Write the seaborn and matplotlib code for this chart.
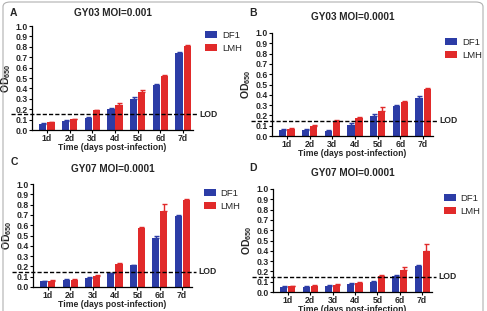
import numpy as np
import pandas as pd
import matplotlib
matplotlib.use("Agg")
import matplotlib.pyplot as plt
import seaborn as sns
from matplotlib.patches import FancyBboxPatch
import matplotlib.transforms as mtransforms

days = ["1d", "2d", "3d", "4d", "5d", "6d", "7d"]
series = ["DF1", "LMH"]

titles = ["GY03 MOI=0.001", "GY03 MOI=0.0001", "GY07 MOI=0.0001", "GY07 MOI=0.0001"]
letters = ["A", "B", "C", "D"]

a_df1 = [0.06, 0.09, 0.12, 0.20, 0.30, 0.43, 0.74]
a_lmh = [0.075, 0.105, 0.19, 0.245, 0.37, 0.52, 0.81]
a_df1_err = [0.005, 0.005, 0.005, 0.01, 0.02, 0.01, 0.01]
a_lmh_err = [0.005, 0.005, 0.005, 0.01, 0.01, 0.01, 0.01]

b_df1 = [0.06, 0.06, 0.05, 0.11, 0.19, 0.29, 0.37]
b_lmh = [0.07, 0.10, 0.15, 0.17, 0.24, 0.33, 0.46]
b_df1_err = [0.005, 0.005, 0.005, 0.02, 0.02, 0.01, 0.02]
b_lmh_err = [0.005, 0.005, 0.005, 0.01, 0.04, 0.01, 0.01]

c_df1 = [0.055, 0.07, 0.09, 0.135, 0.21, 0.48, 0.69]
c_lmh = [0.06, 0.07, 0.11, 0.22, 0.57, 0.74, 0.84]
c_df1_err = [0.005, 0.005, 0.005, 0.005, 0.005, 0.02, 0.01]
c_lmh_err = [0.005, 0.005, 0.005, 0.01, 0.01, 0.07, 0.01]

d_df1 = [0.05, 0.05, 0.06, 0.08, 0.10, 0.16, 0.25]
d_lmh = [0.055, 0.06, 0.07, 0.09, 0.16, 0.21, 0.40]
d_df1_err = [0.005, 0.005, 0.005, 0.005, 0.005, 0.005, 0.01]
d_lmh_err = [0.005, 0.005, 0.005, 0.005, 0.005, 0.03, 0.07]

lod = 0.15

panels = [
    (a_df1, a_lmh, a_df1_err, a_lmh_err),
    (b_df1, b_lmh, b_df1_err, b_lmh_err),
    (c_df1, c_lmh, c_df1_err, c_lmh_err),
    (d_df1, d_lmh, d_df1_err, d_lmh_err),
]

colors = {"DF1": "#2c3ca6", "LMH": "#e12a2a"}

sns.set_theme(style="ticks")
plt.rcParams["font.family"] = ["Liberation Sans", "DejaVu Sans"]
plt.rcParams["mathtext.fontset"] = "custom"
plt.rcParams["mathtext.bf"] = "Liberation Sans:bold"
plt.rcParams["mathtext.rm"] = "Liberation Sans"

W, H = 487, 311
fig = plt.figure(figsize=(W / 100, H / 100), dpi=100)

# axes boxes in pixels: (left, right, top(y=1.0), bottom(y=0.0))
boxes = [(32, 193, 26, 130), (272, 433, 33, 136), (33, 192, 184, 287), (273, 432, 189, 292)]
title_y = [13, 17, 169, 173]
letter_pos = [(10, 13), (249, 13), (11, 162), (249, 168)]

# figure border
border = FancyBboxPatch((3 / W, -0.1), (483 - 3) / W, (1 - 2 / H) + 0.1,
                        boxstyle="round,pad=0,rounding_size=0.015",
                        transform=fig.transFigure, fill=False,
                        edgecolor="#b0b0b0", linewidth=0.8)
fig.patches.append(border)

for i, (df1, lmh, e1, e2) in enumerate(panels):
    l, r, t, b = boxes[i]
    ax = fig.add_axes([l / W, 1 - b / H, (r - l) / W, (b - t) / H])
    df = pd.DataFrame({
        "day": days * 2,
        "series": ["DF1"] * 7 + ["LMH"] * 7,
        "od": list(df1) + list(lmh),
    })
    sns.barplot(data=df, x="day", y="od", hue="series", order=days,
                hue_order=series, palette=colors, errorbar=None,
                width=0.72, gap=0.12, saturation=1, ax=ax, linewidth=0)
    for cont, err, s in zip(ax.containers, [e1, e2], series):
        xs = [bar.get_x() + bar.get_width() / 2 for bar in cont]
        hs = [bar.get_height() for bar in cont]
        ax.errorbar(xs, hs, yerr=[np.zeros(len(err)), err], fmt="none",
                    ecolor=colors[s], elinewidth=1.0, capsize=1.8, capthick=1.0)
    ax.set_ylim(0, 1.0)
    ax.set_xlim(-0.66, 6.44)
    ax.set_yticks(np.arange(0, 1.01, 0.1))
    ax.set_yticklabels([f"{v:.1f}" for v in np.arange(0, 1.01, 0.1)])
    for lab in ax.get_xticklabels() + ax.get_yticklabels():
        lab.set_fontweight("bold")
        lab.set_fontsize(6.2)
    ax.tick_params(axis="both", length=2, width=0.8, pad=1.2, color="black")
    sns.despine(ax=ax)
    for sp in ["left", "bottom"]:
        ax.spines[sp].set_linewidth(0.9)
        ax.spines[sp].set_color("black")
    ax.set_xlabel("Time (days post-infection)", fontsize=6.2, fontweight="bold", labelpad=0)
    ax.set_ylabel(r"$\mathbf{OD}_{\mathbf{650}}$", fontsize=7.5, labelpad=2)
    fig.text((l + r) / 2 / W, 1 - title_y[i] / H, titles[i], fontsize=7.2,
             fontweight="bold", ha="center", va="center")
    # LOD line
    trans = mtransforms.blended_transform_factory(ax.transAxes, ax.transData)
    ax.plot([-0.13, 1.025], [lod, lod], transform=trans, color="black",
            linestyle=(0, (3, 1.5)), linewidth=1.0, clip_on=False, zorder=5)
    ax.text(1.04, lod, "LOD", transform=trans, fontsize=6.2, fontweight="bold",
            va="center", ha="left")
    ax.legend(loc="upper left", bbox_to_anchor=(1.05, 0.99), frameon=False,
              prop={"size": 6.8}, handlelength=1.3, handleheight=0.7,
              borderaxespad=0, labelspacing=0.45, handletextpad=0.5)
    lx, ly = letter_pos[i]
    fig.text(lx / W, 1 - ly / H, letters[i], fontsize=7.5, fontweight="bold",
             ha="left", va="center")

fig.savefig("out.png", dpi=100)
